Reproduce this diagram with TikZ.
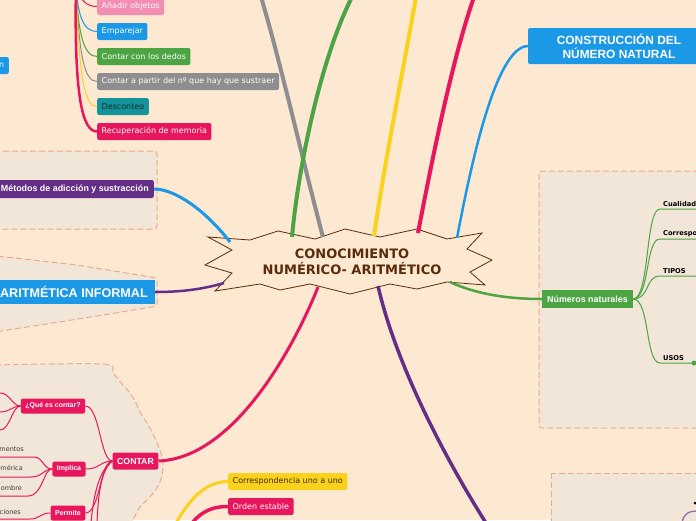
\documentclass[tikz,border=0pt]{standalone}
\usepackage{fontspec}
\setmainfont{DejaVu Sans}
\newfontfamily\headfont{Liberation Sans}
\usetikzlibrary{positioning}
\definecolor{pagebg}{HTML}{FDE8D2}
\definecolor{framefill}{HTML}{F2E6D8}
\definecolor{framedash}{HTML}{EFA98A}
\definecolor{starline}{HTML}{5B2C0A}
\definecolor{ccrimson}{HTML}{E8175D}
\definecolor{cpink}{HTML}{F48DB2}
\definecolor{cblue}{HTML}{1B98E6}
\definecolor{cgreen}{HTML}{4CA443}
\definecolor{cgray}{HTML}{8E8E90}
\definecolor{cteal}{HTML}{15939B}
\definecolor{cyellow}{HTML}{FAD21C}
\definecolor{cpurple}{HTML}{642E86}
\definecolor{tealtext}{HTML}{0D2A30}
\definecolor{yellowtext}{HTML}{3A2C00}
\definecolor{labeltext}{HTML}{3A3A3A}

\tikzset{
  leafbox/.style={rounded corners=2pt, font=\fontsize{8}{9}\selectfont, text=white,
    inner xsep=4.5pt, inner ysep=0pt, minimum height=17pt},
  headbox/.style={rounded corners=2pt, text=white, inner xsep=4.5pt, inner ysep=0pt},
  dashframe/.style={fill=framefill, draw=framedash, line width=1pt, dash pattern=on 6pt off 3pt},
  bigbranch/.style={line width=#1, line cap=butt},
  bigbranch/.default=4pt,
  twig/.style={line width=1pt},
  sublabel/.style={font=\fontsize{6.5}{7}\selectfont, text=labeltext, inner sep=0pt},
  catlabel/.style={font=\bfseries\fontsize{6.7}{7}\selectfont, text=black, inner sep=1pt}
}

\begin{document}
\begin{tikzpicture}[x=1pt, y=-1pt]
    \useasboundingbox (0,0) rectangle (696,520);
    \clip (0,0) rectangle (696,520);
    \fill[pagebg] (0,0) rectangle (696,520);
    % === FRAMES ===
    \draw[dashframe, rounded corners=3pt] (-5,151) rectangle (157,229);
    \draw[dashframe, rounded corners=3pt] (-5,256) -- (15,258) -- (77,265) -- (157,278)
        -- (157,306) -- (97,316) -- (-5,332) -- cycle;
    \draw[dashframe] plot[smooth] coordinates {(-5,365) (103,364) (113,373) (122,384) (130,393)
        (137,405) (141,414) (150,428) (157,443) (163,460) (162,475) (158,486) (150,497)
        (140,507) (133,520) (130,528)} -- (-5,528) -- cycle;
    \draw[dashframe, rounded corners=3pt] (539,171) rectangle (712,428);
    \draw[dashframe] (551,473) rectangle (712,535);
    % === CENTRE ===
    \draw[draw=starline, fill=pagebg, line width=0.8pt, line join=miter]
        (208,237) -- (250,240) -- (278,231) -- (315,239) -- (345,229) -- (380,237)
        -- (417,229) -- (447,239) -- (482,233) -- (467,249) -- (492,260) -- (470,272)
        -- (485,285) -- (447,282) -- (417,289) -- (390,284) -- (350,294) -- (310,284)
        -- (280,290) -- (260,284) -- (215,291) -- (232,273) -- (205,265) -- (232,250) -- cycle;
    \node[font=\bfseries\fontsize{13}{16.5}\selectfont, text=starline, align=center]
        (root) at (352,262) {CONOCIMIENTO\\NUMÉRICO- ARITMÉTICO};
    \coordinate (rootGray) at (323,237);
    \coordinate (rootGreen) at (292,237);
    \coordinate (rootYellow) at (374,236);
    \coordinate (rootRed) at (418,233);
    \coordinate (rootBlue) at (457,238);
    \coordinate (rootNat) at (450,282);
    \coordinate (rootPurple) at (378,286);
    \coordinate (rootContar) at (318,287);
    \coordinate (rootMetodos) at (230,242);
    \coordinate (rootInformal) at (224,283);
    % free ends outside the picture
    \coordinate (topGray) at (261,-3);
    \coordinate (topGreen) at (352,-3);
    \coordinate (topYellow) at (416,-3);
    \coordinate (topRed) at (474,-3);
    \coordinate (downPurple) at (486,523);
    \coordinate (downYellow) at (176,523);
    \coordinate (downRed) at (192,523);
    \coordinate (listTop) at (76,-15);
    % === TOP LEFT: list ===
    \node[leafbox, fill=cpink, anchor=west] (anadir) at (97,6.5) {Añadir objetos};
    \node[leafbox, fill=cblue, anchor=west] (emparejar) at (97,31.5) {Emparejar};
    \node[leafbox, fill=cgreen, anchor=west] (dedos) at (97,56.5) {Contar con los dedos};
    \node[leafbox, fill=cgray, anchor=west] (apartir) at (97,81.5) {Contar a partir del nº que hay que sustraer};
    \node[leafbox, fill=cteal, text=tealtext, anchor=west] (desconteo) at (97,106.5) {Desconteo};
    \node[leafbox, fill=ccrimson, anchor=west] (memoria) at (97,131.5) {Recuperación de memoria};
    \node[leafbox, fill=cblue, anchor=east] (cutn) at (9,65.5) {\hspace*{20pt}n};
    \draw[twig, ccrimson] (listTop) .. controls (80,2) and (88,6.5) .. (anadir.west);
    \draw[twig, cblue] (listTop) .. controls (78,18) and (84,31.5) .. (emparejar.west);
    \draw[twig, cgreen] (listTop) .. controls (78,35) and (84,56.5) .. (dedos.west);
    \draw[twig, cgray] (listTop) .. controls (79,55) and (84,81.5) .. (apartir.west);
    \draw[twig, cyellow] (listTop) .. controls (79,75) and (84,106.5) .. (desconteo.west);
    \draw[bigbranch=2.5pt, ccrimson] (listTop) .. controls (74,95) and (82,131.5) .. (memoria.west);
    % === MAIN BRANCHES ===
    \draw[bigbranch=4pt, cgray] (rootGray) .. controls (305,170) and (280,60) .. (topGray);
    \draw[bigbranch=4pt, cgreen] (rootGreen) .. controls (298,170) and (320,60) .. (topGreen);
    \draw[bigbranch=4pt, cyellow] (rootYellow) .. controls (385,160) and (405,60) .. (topYellow);
    \draw[bigbranch=4pt, ccrimson] (rootRed) .. controls (432,160) and (452,60) .. (topRed);
    \node[headbox, fill=cblue, minimum width=182pt, minimum height=36pt, align=center,
        font=\headfont\bfseries\fontsize{11.9}{14}\selectfont] (construccion) at (619,46)
        {CONSTRUCCIÓN DEL\\NÚMERO NATURAL};
    \draw[bigbranch=2.5pt, cblue] (rootBlue) .. controls (470,170) and (495,47) .. (construccion.west);
    \draw[bigbranch=3.5pt, cpurple] (rootPurple) .. controls (395,360) and (440,450) .. (downPurple);
    % === LEFT: methods and informal arithmetic ===
    \node[headbox, fill=cpurple, anchor=east, inner xsep=5pt, minimum height=18pt,
        font=\headfont\bfseries\fontsize{8.9}{10}\selectfont] (metodos) at (154,189)
        {Métodos de adicción y sustracción};
    \draw[bigbranch=3pt, cblue] (rootMetodos) .. controls (205,210) and (175,189) .. (metodos.east);
    \node[headbox, fill=cblue, anchor=east, inner xsep=7pt, minimum height=24pt, rounded corners=0pt,
        font=\headfont\bfseries\fontsize{12.6}{14}\selectfont] (informal) at (155,292)
        {ARITMÉTICA INFORMAL};
    \draw[bigbranch=2.5pt, cpurple] (rootInformal) .. controls (200,290) and (178,292) .. (informal.east);
    % === BOTTOM LEFT: CONTAR ===
    \node[headbox, fill=ccrimson, minimum height=17pt,
        font=\headfont\bfseries\fontsize{8.7}{10}\selectfont] (contar) at (135.5,461) {CONTAR};
    \draw[bigbranch=3pt, ccrimson] (rootContar) .. controls (295,345) and (235,458) .. (contar.east);
    \node[headbox, fill=ccrimson, minimum height=15pt,
        font=\headfont\bfseries\fontsize{7}{8}\selectfont] (quees) at (53,406) {¿Qué es contar?};
    \node[headbox, fill=ccrimson, minimum height=15pt,
        font=\headfont\bfseries\fontsize{7}{8}\selectfont] (implica) at (69,469) {Implica};
    \node[headbox, fill=ccrimson, minimum height=15pt,
        font=\headfont\bfseries\fontsize{7}{8}\selectfont] (permite) at (68,513) {Permite};
    \coordinate (contarDownA) at (97,523);
    \coordinate (contarDownB) at (91,523);
    \foreach \kid in {quees, implica, permite} {
        \draw[twig, ccrimson] (contar.west) .. controls (100,461) and (100,0|-\kid.east) .. (\kid.east);
    }
    \draw[twig, ccrimson] (contar.west) .. controls (100,470) and (98,500) .. (contarDownA);
    \draw[twig, ccrimson] (contar.west) .. controls (98,470) and (93,500) .. (contarDownB);
    \foreach \y in {393, 412, 430} {
        \draw[twig, ccrimson] (quees.west) .. controls (12,406) and (10,\y) .. (0,\y) -- (-5,\y);
    }
    \node[sublabel, anchor=east] (elementos) at (24,449) {mentos};
    \node[sublabel, anchor=east] (numerica) at (23,468) {mérica};
    \node[sublabel, anchor=east] (nombre) at (22,488) {ombre};
    \node[sublabel, anchor=east] (acciones) at (21,512) {ciones};
    \foreach \y/\x in {457/34, 477/31, 496/28} {
        \draw[twig, ccrimson] (implica.west) .. controls (43,469) and (43,\y) .. (\x,\y) -- (-5,\y);
    }
    \draw[twig, ccrimson] (permite.west) .. controls (40,513) and (40,519) .. (30,519) -- (-5,519);
    % === BOTTOM: counting principles ===
    \node[leafbox, fill=cyellow, text=yellowtext, anchor=west] (unoauno) at (228,481.5) {Correspondencia uno a uno};
    \node[leafbox, fill=ccrimson, anchor=west] (orden) at (228,506.5) {Orden estable};
    \draw[bigbranch=3pt, cyellow] (downYellow) .. controls (192,495) and (208,481.5) .. (unoauno.west);
    \draw[bigbranch=3.5pt, ccrimson] (downRed) .. controls (203,510) and (214,506.5) .. (orden.west);
    % === RIGHT: natural numbers ===
    \node[headbox, fill=cgreen, minimum height=18pt, inner xsep=5pt, rounded corners=0pt,
        font=\headfont\bfseries\fontsize{8.9}{10}\selectfont] (naturales) at (587.5,299) {Números naturales};
    \draw[bigbranch=2.5pt, cgreen] (rootNat) .. controls (480,296) and (515,299) .. (naturales.west);
    \foreach \y/\txt in {209/Cualidad, 239/Correspo, 276/TIPOS, 363/USOS} {
        \draw[twig, cgreen] (naturales.east) .. controls (650,299) and (645,\y) .. (660,\y) -- (700,\y);
        \node[catlabel, anchor=south west] at (662,\y-1) {\txt};
    }
    \fill[cgreen] (694,363) circle (2.5);
    % === BOTTOM RIGHT ===
    \coordinate (brIn) at (682,523);
    \coordinate (brOut) at (700,511);
    \draw[line width=1.3pt, cpurple!70] (brIn) .. controls (684,513) and (688,511) .. (brOut);
    \fill[black] (695,503) circle (1.5);
\end{tikzpicture}
\end{document}
